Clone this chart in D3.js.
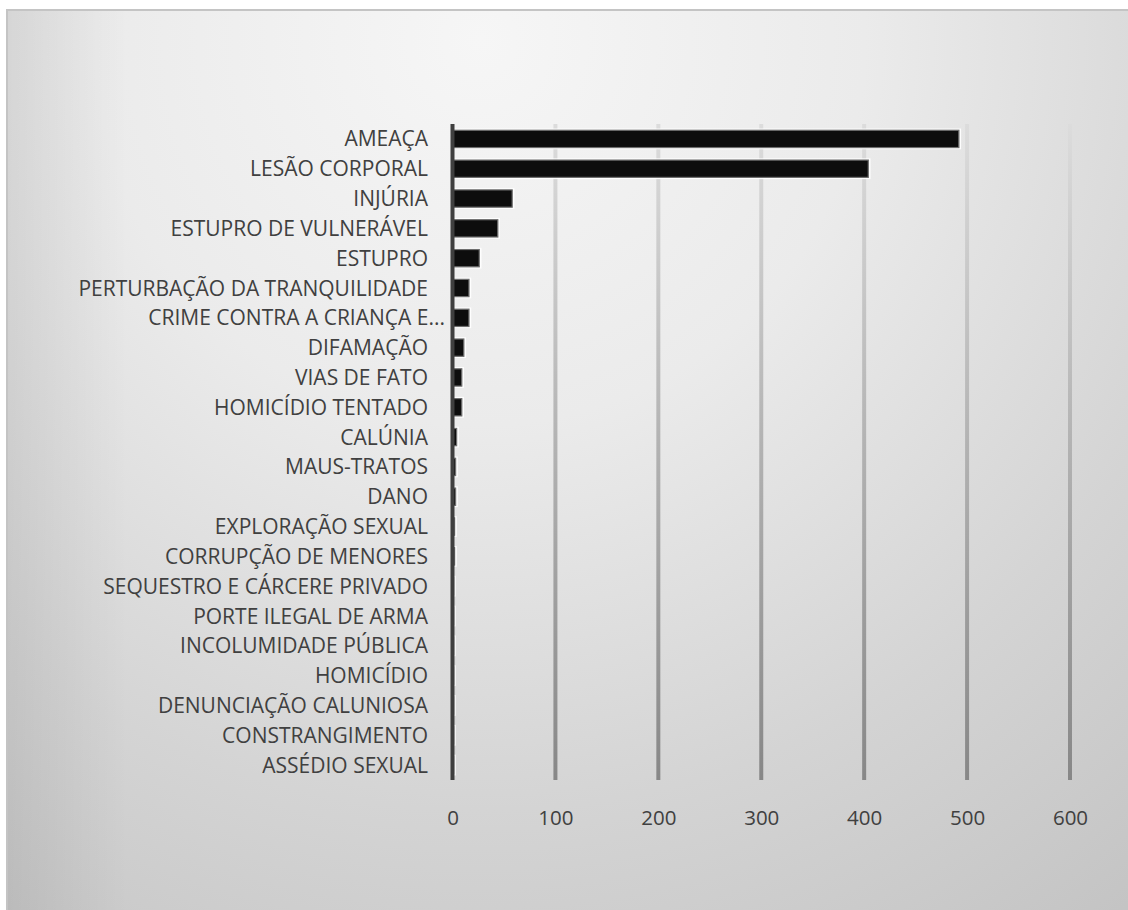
<!DOCTYPE html>
<html>
<head>
<meta charset="utf-8">
<script src="https://cdn.jsdelivr.net/npm/d3@7"></script>
<style>
  html, body { margin: 0; padding: 0; background: #ffffff; }
  svg { display: block; }
  text { font-family: "Open Sans", Lato, sans-serif; }
</style>
</head>
<body>
<div id="chart"></div>
<script>
// Ocorrências por tipo de crime
const categories = [
  "AMEAÇA", "LESÃO CORPORAL", "INJÚRIA", "ESTUPRO DE VULNERÁVEL", "ESTUPRO",
  "PERTURBAÇÃO DA TRANQUILIDADE", "CRIME CONTRA A CRIANÇA E...", "DIFAMAÇÃO",
  "VIAS DE FATO", "HOMICÍDIO TENTADO", "CALÚNIA", "MAUS-TRATOS", "DANO",
  "EXPLORAÇÃO SEXUAL", "CORRUPÇÃO DE MENORES", "SEQUESTRO E CÁRCERE PRIVADO",
  "PORTE ILEGAL DE ARMA", "INCOLUMIDADE PÚBLICA", "HOMICÍDIO",
  "DENUNCIAÇÃO CALUNIOSA", "CONSTRANGIMENTO", "ASSÉDIO SEXUAL"
];
const values = [492, 404, 58, 44, 26, 16, 16, 11, 9, 9, 4, 3, 3, 2, 2, 1, 1, 1, 1, 1, 1, 1];
const xTicks = [0, 100, 200, 300, 400, 500, 600];

const W = 1128, H = 910;
const svg = d3.select("#chart").append("svg").attr("width", W).attr("height", H);
const defs = svg.append("defs");

// Chart area background: soft radial shading
const bg = defs.append("radialGradient").attr("id", "bgGrad")
  .attr("gradientUnits", "userSpaceOnUse")
  .attr("cx", 480).attr("cy", 40).attr("r", 1100);
[[0, "#f6f6f6"], [0.35, "#ebebeb"], [0.7, "#d4d4d4"], [1, "#c3c3c3"]]
  .forEach(([o, c]) => bg.append("stop").attr("offset", o).attr("stop-color", c));

const edge = defs.append("linearGradient").attr("id", "edgeGrad")
  .attr("x1", 0).attr("x2", 1).attr("y1", 0).attr("y2", 0);
edge.append("stop").attr("offset", 0).attr("stop-color", "#000").attr("stop-opacity", 0.07);
edge.append("stop").attr("offset", 1).attr("stop-color", "#000").attr("stop-opacity", 0);

// Gridlines fade from light at the top to mid grey at the bottom
const plotTop = 124, plotBottom = 780;
const gg = defs.append("linearGradient").attr("id", "gridGrad")
  .attr("gradientUnits", "userSpaceOnUse")
  .attr("x1", 0).attr("x2", 0).attr("y1", plotTop).attr("y2", plotBottom);
gg.append("stop").attr("offset", 0).attr("stop-color", "#dcdcdc");
gg.append("stop").attr("offset", 1).attr("stop-color", "#878787");

svg.append("rect").attr("x", 7).attr("y", 10).attr("width", W).attr("height", H)
  .attr("fill", "url(#bgGrad)").attr("stroke", "#c4c4c4").attr("stroke-width", 2);
svg.append("rect").attr("x", 8).attr("y", 11).attr("width", 120).attr("height", H)
  .attr("fill", "url(#edgeGrad)");

const x = d3.scaleLinear().domain([0, 600]).range([452.5, 1070]);
const y = d3.scaleBand().domain(categories).range([plotTop, plotBottom])
  .paddingInner(0.42).paddingOuter(0.21);

// Vertical gridlines
svg.append("g").selectAll("line")
  .data(xTicks.filter(t => t > 0))
  .join("line")
  .attr("x1", d => x(d)).attr("x2", d => x(d))
  .attr("y1", plotTop).attr("y2", plotBottom)
  .attr("stroke", "url(#gridGrad)").attr("stroke-width", 4);

// Bars: white halo, grey rim, near-black fill
const bars = svg.append("g");
bars.selectAll("rect.halo")
  .data(categories)
  .join("rect").attr("class", "halo")
  .attr("x", x(0)).attr("y", d => y(d) - 1)
  .attr("width", (d, i) => x(values[i]) - x(0) + 1.5)
  .attr("height", y.bandwidth() + 2)
  .attr("fill", "none").attr("stroke", "#ffffff").attr("stroke-width", 1.5).attr("stroke-opacity", 0.9);
bars.selectAll("rect.bar")
  .data(categories)
  .join("rect").attr("class", "bar")
  .attr("x", x(0)).attr("y", d => y(d))
  .attr("width", (d, i) => Math.max(0.5, x(values[i]) - x(0)))
  .attr("height", y.bandwidth())
  .attr("fill", "#0d0d0d").attr("stroke", "#6e6e6e").attr("stroke-width", 1.2);

// Category axis line
svg.append("line")
  .attr("x1", x(0)).attr("x2", x(0)).attr("y1", plotTop).attr("y2", plotBottom)
  .attr("stroke", "#3f3f3f").attr("stroke-width", 4);

// Category labels
const yAxis = d3.axisLeft(y).tickSize(0).tickPadding(0);
const yg = svg.append("g").attr("transform", "translate(428,0)").call(yAxis);
yg.select(".domain").remove();
yg.selectAll("text")
  .attr("fill", "#404040").attr("font-size", 21)
  .attr("font-family", "'Open Sans', Lato, sans-serif")
  .attr("dy", "0.36em")
  .attr("dx", d => d.endsWith("...") ? 17 : 0);

// Value axis labels
const xAxis = d3.axisBottom(x).tickValues(xTicks).tickSize(0).tickPadding(0);
const xg = svg.append("g").attr("transform", "translate(0,810)").call(xAxis);
xg.select(".domain").remove();
xg.selectAll("text")
  .attr("fill", "#404040").attr("font-size", 20.5)
  .attr("font-family", "'Open Sans', Lato, sans-serif")
  .attr("dy", "0.72em");
</script>
</body>
</html>
